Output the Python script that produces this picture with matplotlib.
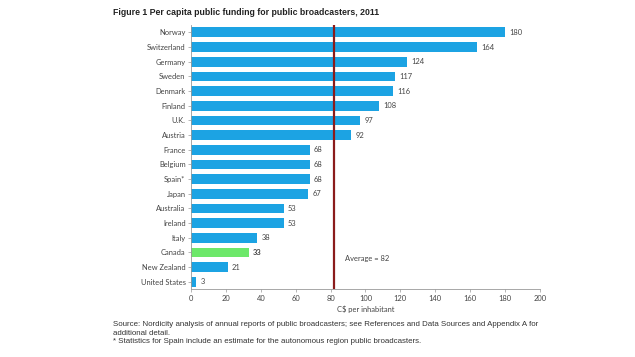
import matplotlib.pyplot as plt
import numpy as np

countries = ["Norway", "Switzerland", "Germany", "Sweden", "Denmark", "Finland",
             "U.K.", "Austria", "France", "Belgium", "Spain*", "Japan",
             "Australia", "Ireland", "Italy", "Canada", "New Zealand", "United States"]
funding = [180, 164, 124, 117, 116, 108, 97, 92, 68, 68, 68, 67, 53, 53, 38, 33, 21, 3]
average = 82
xticks = [0, 20, 40, 60, 80, 100, 120, 140, 160, 180, 200]

BLUE = "#1ca3e3"
GREEN = "#6de86a"
AVG_RED = "#8b1c1c"
GREY = "#444444"

fig = plt.figure(figsize=(6.35, 3.57), dpi=100)
ax = fig.add_axes([0.301, 0.19, 0.549, 0.74])

y = np.arange(len(countries))
colors = [GREEN if c == "Canada" else BLUE for c in countries]
ax.barh(y, funding, height=0.66, color=colors, zorder=2)

for yi, v, c in zip(y, funding, countries):
    ax.text(v + 2.5, yi, str(v), va="center", ha="left", fontsize=5.4,
            color=GREY, fontfamily="Lato",
            fontweight="bold" if c == "Canada" else "normal")

ax.axvline(average, color=AVG_RED, lw=1.6, zorder=3)
ax.text(average + 6, 15.4, f"Average = {average}", va="center", ha="left",
        fontsize=5.4, color=GREY, fontfamily="Lato")

ax.set_ylim(len(countries) - 0.5, -0.5)
ax.set_xlim(0, 200)
ax.set_yticks(y)
ax.set_yticklabels(countries, fontsize=5.4, color=GREY, fontfamily="Lato")
ax.set_xticks(xticks)
ax.set_xticklabels([str(t) for t in xticks], fontsize=5.4, color=GREY, fontfamily="Lato")
ax.tick_params(axis="both", length=2, width=0.5, color="#999999", pad=2)
ax.set_xlabel("C$ per inhabitant", fontsize=5.4, color=GREY, fontfamily="Lato", labelpad=3)

for s in ["top", "right"]:
    ax.spines[s].set_visible(False)
for s in ["left", "bottom"]:
    ax.spines[s].set_color("#999999")
    ax.spines[s].set_linewidth(0.6)

fig.text(0.178, 0.966, "Figure 1 Per capita public funding for public broadcasters, 2011",
         fontsize=6.3, fontweight="bold", fontfamily="Liberation Sans",
         color="#222222", va="center", ha="left")

notes = ("Source: Nordicity analysis of annual reports of public broadcasters; see References and Data Sources and Appendix A for\n"
         "additional detail.\n"
         "* Statistics for Spain include an estimate for the autonomous region public broadcasters.")
fig.text(0.178, 0.100, notes, fontsize=5.7, fontfamily="Liberation Sans",
         color="#333333", va="top", ha="left", linespacing=1.3)

fig.savefig("out.png", dpi=100)
